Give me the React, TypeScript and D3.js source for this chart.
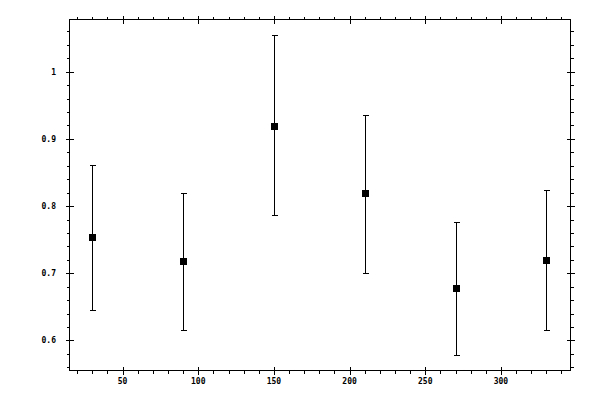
import React from "react";
import * as d3 from "d3";

const xValues = [30, 90, 150, 210, 270, 330];
const yValues = [0.754, 0.718, 0.919, 0.819, 0.678, 0.719];
const yLower = [0.645, 0.615, 0.787, 0.701, 0.579, 0.616];
const yUpper = [0.861, 0.820, 1.054, 0.935, 0.776, 0.824];
const xTickLabels = [50, 100, 150, 200, 250, 300];
const yTickLabels = [0.6, 0.7, 0.8, 0.9, 1];

const W = 600;
const H = 400;
const L = 69.5, R = 570.5, T = 19.5, B = 370.5;

export default function App() {
  const x = d3.scaleLinear().domain([14.9, 346]).range([L, R]);
  const yMin = d3.min(yLower)!, yMax = d3.max(yUpper)!;
  const yPad = (yMax - yMin) * 0.05;
  const y = d3.scaleLinear().domain([yMin - yPad, yMax + yPad]).range([B, T]);

  const xMinor = d3.range(20, 341, 10).filter((v) => v % 50 !== 0);
  const yMinor = d3.range(28, 54).map((v) => v / 50).filter((v) => Math.round(v * 100) % 10 !== 0);

  const font = "DejaVu Sans Mono";
  const px = (v: number) => Math.round(x(v)) + 0.5;
  const py = (v: number) => Math.round(y(v)) + 0.5;

  return (
    <div style={{ position: "fixed", left: 0, top: 0 }}>
      <svg width={W} height={H} style={{ display: "block", background: "#fff" }}>
        <g stroke="#000" strokeWidth={1} shapeRendering="crispEdges" fill="none">
          <rect x={L} y={T} width={R - L} height={B - T} />
          {xTickLabels.map((v) => (
            <g key={"xm" + v}>
              <line x1={px(v)} x2={px(v)} y1={B - 4} y2={B + 4} />
              <line x1={px(v)} x2={px(v)} y1={T - 4} y2={T + 4} />
            </g>
          ))}
          {xMinor.map((v) => (
            <g key={"xn" + v}>
              <line x1={px(v)} x2={px(v)} y1={B} y2={B + 3} />
              <line x1={px(v)} x2={px(v)} y1={T - 3} y2={T} />
            </g>
          ))}
          {yTickLabels.map((v) => (
            <g key={"ym" + v}>
              <line x1={L - 4} x2={L + 4} y1={py(v)} y2={py(v)} />
              <line x1={R - 4} x2={R + 4} y1={py(v)} y2={py(v)} />
            </g>
          ))}
          {yMinor.map((v) => (
            <g key={"yn" + v}>
              <line x1={L - 3} x2={L} y1={py(v)} y2={py(v)} />
              <line x1={R} x2={R + 3} y1={py(v)} y2={py(v)} />
            </g>
          ))}
          {xValues.map((v, i) => (
            <g key={"e" + i}>
              <line x1={px(v)} x2={px(v)} y1={py(yLower[i])} y2={py(yUpper[i])} />
              <line x1={px(v) - 3} x2={px(v) + 3} y1={py(yLower[i])} y2={py(yLower[i])} />
              <line x1={px(v) - 3} x2={px(v) + 3} y1={py(yUpper[i])} y2={py(yUpper[i])} />
            </g>
          ))}
        </g>
        <g fill="#000" stroke="none" shapeRendering="crispEdges">
          {xValues.map((v, i) => (
            <rect key={"p" + i} x={Math.round(x(v)) - 3} y={Math.round(y(yValues[i])) - 3} width={7} height={7} />
          ))}
        </g>
        <g fontFamily={font} fontSize={8} fontWeight="bold" fill="#000">
          {xTickLabels.map((v) => (
            <text key={"xl" + v} x={x(v)} y={384} textAnchor="middle">
              {String(v)}
            </text>
          ))}
          {yTickLabels.map((v) => (
            <text key={"yl" + v} x={56} y={y(v) + 3} textAnchor="end">
              {String(v)}
            </text>
          ))}
        </g>
      </svg>
    </div>
  );
}
